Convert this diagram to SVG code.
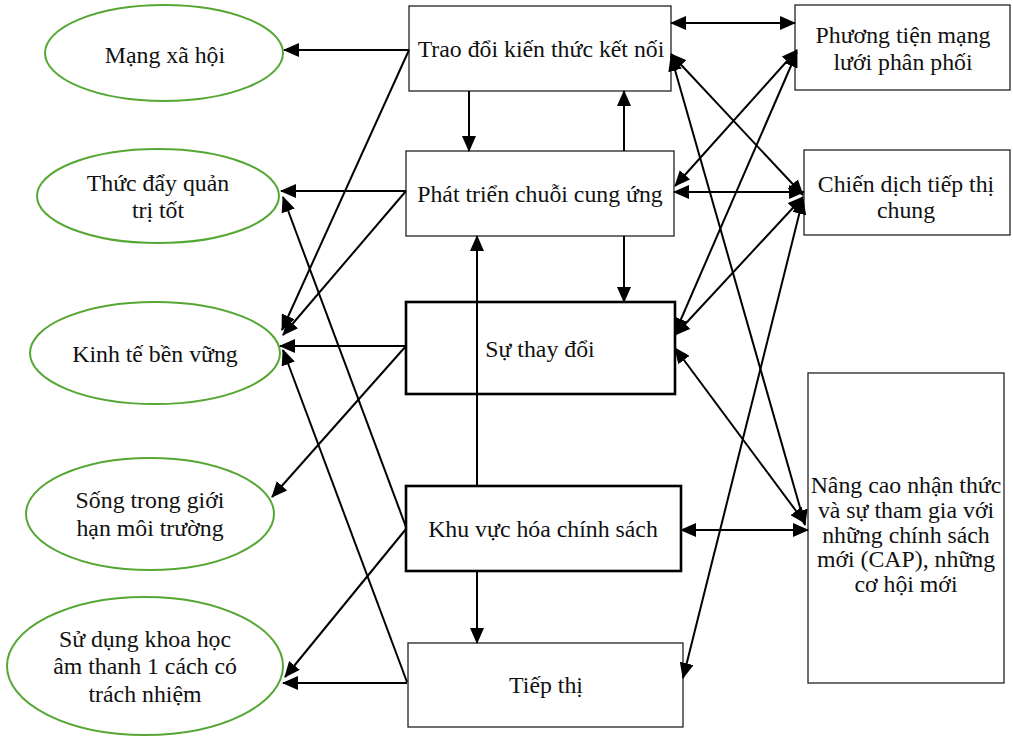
<svg xmlns="http://www.w3.org/2000/svg" width="1013" height="737" viewBox="0 0 1013 737">
<style>
.bg{fill:#fff}
.ell{fill:#fff;stroke:#55a733;stroke-width:2}
.box{fill:#fff;stroke:#222;stroke-width:1.3}
.thick{fill:#fff;stroke:#000;stroke-width:2.6}
.t{font-family:"Liberation Serif","Times New Roman",serif;font-size:23.8px;fill:#111;text-anchor:middle}
.c line{stroke:#000;stroke-width:2;marker-end:url(#ah)}
.c line.d{marker-start:url(#ah)}
</style>
<defs>
<marker id="ah" viewBox="0 0 16 14" refX="15" refY="7" markerWidth="16" markerHeight="14" markerUnits="userSpaceOnUse" orient="auto-start-reverse">
<path d="M0,0 L16,7 L0,14 z" fill="#000"/>
</marker>
</defs>
<rect class="bg" x="0" y="0" width="1013" height="737"/>

<g id="n-mangxahoi"><ellipse class="ell" cx="164" cy="53" rx="119" ry="48"/><text class="t" x="165" y="63">Mạng xã hội</text></g>
<g id="n-thucday"><ellipse class="ell" cx="158" cy="196" rx="121" ry="47"/><text class="t" x="158" y="191">Thức đẩy quản</text><text class="t" x="158" y="218">trị tốt</text></g>
<g id="n-kinhte"><ellipse class="ell" cx="155" cy="353" rx="125" ry="51"/><text class="t" x="155" y="362">Kinh tế bền vững</text></g>
<g id="n-song"><ellipse class="ell" cx="150" cy="514" rx="124" ry="56"/><text class="t" x="150" y="508">Sống trong giới</text><text class="t" x="150" y="536">hạn môi trường</text></g>
<g id="n-sudung"><ellipse class="ell" cx="145" cy="666" rx="138" ry="69"/><text class="t" x="145" y="647">Sử dụng khoa học</text><text class="t" x="145" y="674">âm thanh 1 cách có</text><text class="t" x="145" y="702">trách nhiệm</text></g>

<g id="n-traodoi"><rect class="box" x="409" y="6" width="262" height="85"/><text class="t" x="541" y="57">Trao đổi kiến thức kết nối</text></g>
<g id="n-phattrien"><rect class="box" x="406" y="151" width="268" height="85"/><text class="t" x="540" y="202">Phát triển chuỗi cung ứng</text></g>
<g id="n-suthaydoi"><rect class="thick" x="406" y="302" width="269" height="92"/><text class="t" x="540" y="357">Sự thay đổi</text></g>
<g id="n-khuvuc"><rect class="thick" x="406" y="486" width="275" height="85"/><text class="t" x="543" y="537">Khu vực hóa chính sách</text></g>
<g id="n-tiepthi"><rect class="box" x="408" y="643" width="275" height="84"/><text class="t" x="546" y="693">Tiếp thị</text></g>

<g id="n-phuongtien"><rect class="box" x="795" y="5" width="215" height="85"/><text class="t" x="903" y="43">Phương tiện mạng</text><text class="t" x="903" y="70">lưới phân phối</text></g>
<g id="n-chiendich"><rect class="box" x="804" y="150" width="206" height="85"/><text class="t" x="906" y="192">Chiến dịch tiếp thị</text><text class="t" x="906" y="218">chung</text></g>
<g id="n-nangcao"><rect class="box" x="808" y="373" width="196" height="310"/><text class="t" x="906" y="493">Nâng cao nhận thức</text><text class="t" x="906" y="518">và sự tham gia với</text><text class="t" x="906" y="543">những chính sách</text><text class="t" x="906" y="567">mới (CAP), những</text><text class="t" x="906" y="592">cơ hội mới</text></g>

<g id="connectors" class="c">
<line x1="409" y1="50" x2="284" y2="50"/>
<line x1="409" y1="50" x2="282" y2="330"/>
<line x1="406" y1="191" x2="281" y2="191"/>
<line x1="406" y1="191" x2="283" y2="335"/>
<line x1="406" y1="346" x2="280" y2="346"/>
<line x1="406" y1="346" x2="272" y2="497"/>
<line x1="406" y1="527" x2="283" y2="197"/>
<line x1="407" y1="682" x2="283" y2="350"/>
<line x1="406" y1="529" x2="285" y2="677"/>
<line x1="407" y1="683" x2="283" y2="683"/>

<line x1="469" y1="91" x2="469" y2="151"/>
<line x1="624" y1="151" x2="624" y2="91"/>
<line x1="624" y1="236" x2="624" y2="302"/>
<line x1="477" y1="486" x2="477" y2="236"/>
<line x1="477" y1="571" x2="477" y2="643"/>

<line class="d" x1="671" y1="23" x2="795" y2="23"/>
<line class="d" x1="674" y1="192" x2="804" y2="192"/>
<line class="d" x1="681" y1="530" x2="808" y2="530"/>
<line class="d" x1="671" y1="54" x2="803" y2="195"/>
<line class="d" x1="671" y1="56" x2="805" y2="525"/>
<line class="d" x1="797" y1="50" x2="675" y2="186"/>
<line class="d" x1="797" y1="52" x2="675" y2="333"/>
<line class="d" x1="803" y1="197" x2="675" y2="335"/>
<line class="d" x1="675" y1="348" x2="805" y2="523"/>
<line class="d" x1="803" y1="199" x2="683" y2="678"/>
</g>
</svg>
